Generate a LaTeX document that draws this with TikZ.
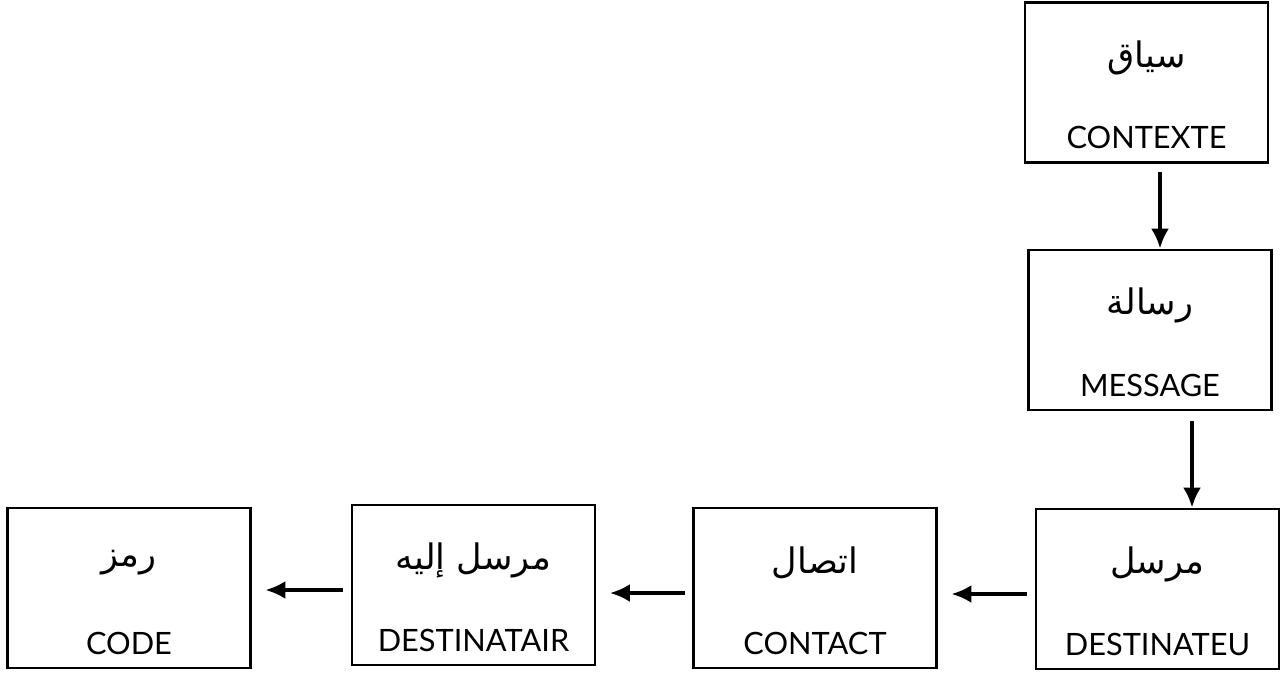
\documentclass[tikz,border=0pt]{standalone}
\usepackage{fontspec}
\usepackage{tikz}
\usetikzlibrary{arrows.meta,shapes}
\setmainfont{Lato}
\newfontfamily\arabicfont[Script=Arabic]{DejaVu Sans}
\TeXXeTstate=1
\tikzstyle{block}=[draw,line width=1.5pt,minimum width=4.86cm,minimum height=3.2cm,inner sep=0pt]
\tikzstyle{artext}=[font=\arabicfont\fontsize{20}{22}\selectfont]
\tikzstyle{frtext}=[font=\fontsize{17.5}{20}\selectfont]
\tikzstyle{link}=[draw,line width=2.3pt,-{Latex[length=0.4cm,width=0.36cm]}]

\begin{document}
\begin{tikzpicture}
    \useasboundingbox (0,0) rectangle (25.76,-13.52);
    % Draw the boxes with their two labels
    \foreach \pos/\name/\tar/\tfr in {{(22.93,-1.65)/ctx/سياق/CONTEXTE}, {(23.0,-6.6)/msg/رسالة/MESSAGE}, {(23.15,-11.78)/snd/مرسل/DESTINATEU}, {(16.3,-11.76)/cnt/اتصال/CONTACT}, {(9.47,-11.7)/rcv/مرسل إليه/DESTINATAIR}, {(2.58,-11.76)/code/رمز/CODE}}
    {
        \node[block] (\name) at \pos {};
        \node[artext] (\name-ar) at ([yshift=0.5cm]\name.center) {\beginR\tar\endR};
        \node[frtext] (\name-fr) at ([yshift=-1.1cm]\name.center) {\tfr};
    }
    % Vertical arrows
    \path[link,shorten <=0.16cm] ([xshift=0.27cm]ctx.south) -- ([xshift=0.27cm]ctx.south |- msg.north);
    \path[link,shorten <=0.2cm] ([xshift=0.84cm]msg.south) -- ([xshift=0.84cm]msg.south |- snd.north);
    % Horizontal arrows
    \foreach \source/\dest in {snd/cnt, cnt/rcv, rcv/code}
        \path[link,shorten <=0.15cm,shorten >=0.27cm] ([yshift=-0.1cm]\source.west) -- ([yshift=-0.1cm]\source.west -| \dest.east);
\end{tikzpicture}
\end{document}
